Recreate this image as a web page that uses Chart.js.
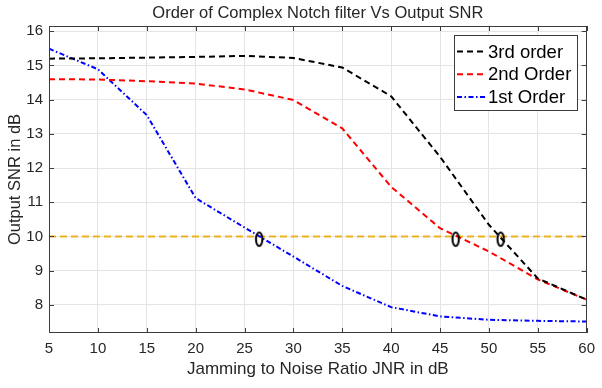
<!DOCTYPE html>
<html>
<head>
<meta charset="utf-8">
<script src="https://cdn.jsdelivr.net/npm/chart.js@4.4.1/dist/chart.umd.min.js"></script>
<style>
  html, body { margin: 0; padding: 0; background: #ffffff; }
  #wrap { width: 602px; height: 388px; }
</style>
</head>
<body>
<div id="wrap"><canvas id="snrChart" width="602" height="388"></canvas></div>
<script>
// Jamming-to-noise ratio sweep (dB)
const jnr = [5, 10, 15, 20, 25, 30, 35, 40, 45, 50, 55, 60];

// Output SNR (dB) for each notch filter order
const snr3rd = [15.20, 15.21, 15.23, 15.25, 15.28, 15.22, 14.94, 14.10, 12.33, 10.34, 8.77, 8.15];
const snr2nd = [14.60, 14.59, 14.54, 14.47, 14.30, 13.99, 13.16, 11.45, 10.24, 9.56, 8.74, 8.15];
const snr1st = [15.49, 14.89, 13.55, 11.12, 10.26, 9.41, 8.55, 7.93, 7.66, 7.56, 7.53, 7.51];

// 10 dB reference level and where each curve crosses it
const thresholdJNR = [5, 60];
const thresholdSNR = [10, 10];
const crossJNR = [26.5, 46.6, 51.2];
const crossSNR = [9.92, 9.92, 9.92];

// Axis ticks
const xTicks = [5, 10, 15, 20, 25, 30, 35, 40, 45, 50, 55, 60];
const yTicks = [8, 9, 10, 11, 12, 13, 14, 15, 16];

const FONT = "'Liberation Sans', Arial, Helvetica, sans-serif";
const TEXT = '#262626';
const AXIS = '#3c3c3c';

const pts = (xs, ys) => xs.map((x, i) => ({ x: x, y: ys[i] }));

// Tall open ring used to flag the 10 dB crossings
function ringGlyph() {
  const c = document.createElement('canvas');
  c.width = 12; c.height = 19;
  const g = c.getContext('2d');
  g.strokeStyle = '#000000';
  g.lineWidth = 2;
  g.beginPath();
  g.ellipse(6, 9.5, 3.2, 6.8, 0, 0, Math.PI * 2);
  g.stroke();
  return c;
}

// Axes box with inward tick marks on all four sides
const axesFrame = {
  id: 'axesFrame',
  afterDatasetsDraw(chart) {
    const { ctx, chartArea: a, scales } = chart;
    const len = 5;
    ctx.save();
    ctx.strokeStyle = AXIS;
    ctx.lineWidth = 1;
    ctx.beginPath();
    scales.x.ticks.forEach(t => {
      const px = Math.round(scales.x.getPixelForValue(t.value)) + 0.5;
      ctx.moveTo(px, a.bottom); ctx.lineTo(px, a.bottom - len);
      ctx.moveTo(px, a.top); ctx.lineTo(px, a.top + len);
    });
    scales.y.ticks.forEach(t => {
      const py = Math.round(scales.y.getPixelForValue(t.value)) + 0.5;
      ctx.moveTo(a.left, py); ctx.lineTo(a.left + len, py);
      ctx.moveTo(a.right, py); ctx.lineTo(a.right - len, py);
    });
    ctx.stroke();
    ctx.strokeRect(Math.round(a.left) + 0.5, Math.round(a.top) + 0.5,
                   Math.round(a.right - a.left) - 1, Math.round(a.bottom - a.top) - 1);
    ctx.restore();
  }
};

// Boxed legend inside the top-right corner of the plot
const insetLegend = {
  id: 'insetLegend',
  afterDraw(chart) {
    const { ctx, chartArea: a } = chart;
    const items = chart.data.datasets.filter(d => d.label);
    const w = 123, h = 75;
    const x0 = Math.round(a.right - 10 - w) + 0.5;
    const y0 = Math.round(a.top + 9) + 0.5;
    ctx.save();
    ctx.fillStyle = '#ffffff';
    ctx.fillRect(x0, y0, w, h);
    ctx.strokeStyle = AXIS;
    ctx.lineWidth = 1;
    ctx.strokeRect(x0, y0, w, h);
    ctx.font = '18.5px ' + FONT;
    ctx.textBaseline = 'middle';
    ctx.textAlign = 'left';
    items.forEach((d, i) => {
      const cy = y0 + 16 + i * 22.8;
      ctx.strokeStyle = d.borderColor;
      ctx.lineWidth = d.borderWidth;
      ctx.setLineDash(d.borderDash || []);
      ctx.beginPath();
      ctx.moveTo(x0 + 2.5, cy);
      ctx.lineTo(x0 + 31.5, cy);
      ctx.stroke();
      ctx.setLineDash([]);
      ctx.fillStyle = '#000000';
      ctx.fillText(d.label, x0 + 33.5, cy + 1);
    });
    ctx.restore();
  }
};

new Chart(document.getElementById('snrChart'), {
  type: 'line',
  data: {
    datasets: [
      {
        data: pts(crossJNR, crossSNR),
        showLine: false,
        pointStyle: ringGlyph(),
        pointRadius: 6,
        pointHoverRadius: 6,
        borderColor: '#000000'
      },
      {
        label: '3rd order',
        data: pts(jnr, snr3rd),
        borderColor: '#000000',
        borderWidth: 2,
        borderDash: [6, 4],
        pointRadius: 0,
        tension: 0
      },
      {
        label: '2nd Order',
        data: pts(jnr, snr2nd),
        borderColor: '#ff0000',
        borderWidth: 2,
        borderDash: [6, 4],
        pointRadius: 0,
        tension: 0
      },
      {
        label: '1st Order',
        data: pts(jnr, snr1st),
        borderColor: '#0000ff',
        borderWidth: 2,
        borderDash: [5, 2.5, 1.5, 2.5],
        pointRadius: 0,
        tension: 0
      },
      {
        data: pts(thresholdJNR, thresholdSNR),
        borderColor: '#edb120',
        borderWidth: 2,
        borderDash: [7, 4],
        pointRadius: 0
      }
    ]
  },
  options: {
    responsive: false,
    animation: false,
    devicePixelRatio: 1,
    events: [],
    layout: { padding: { top: 0, right: 10, bottom: 0, left: 0 } },
    plugins: {
      legend: { display: false },
      tooltip: { enabled: false },
      title: {
        display: true,
        fullSize: false,
        text: 'Order of Complex Notch filter Vs Output SNR',
        color: TEXT,
        font: { family: FONT, size: 16.5, weight: 'normal' },
        padding: { top: 3.5, bottom: 2.7 }
      }
    },
    scales: {
      x: {
        type: 'linear',
        min: 5,
        max: 60,
        afterBuildTicks: s => { s.ticks = xTicks.map(v => ({ value: v })); },
        afterFit: s => { s.height = 55; },
        ticks: {
          color: TEXT,
          font: { family: FONT, size: 15 },
          padding: 7,
          maxRotation: 0
        },
        grid: { color: '#e4e4e4', drawTicks: false },
        border: { display: false },
        title: {
          display: true,
          text: 'Jamming to Noise Ratio JNR in dB',
          color: TEXT,
          font: { family: FONT, size: 17 },
          padding: { top: 0, bottom: 8 }
        }
      },
      y: {
        type: 'linear',
        min: 7.174,
        max: 16.155,
        afterBuildTicks: s => { s.ticks = yTicks.map(v => ({ value: v })); },
        afterFit: s => { s.width = 49; },
        ticks: {
          color: TEXT,
          font: { family: FONT, size: 15 },
          padding: 6
        },
        grid: { color: '#e4e4e4', drawTicks: false },
        border: { display: false },
        title: {
          display: true,
          text: 'Output SNR in dB',
          color: TEXT,
          font: { family: FONT, size: 16.5 },
          padding: { top: 6, bottom: 0 }
        }
      }
    }
  },
  plugins: [axesFrame, insetLegend]
});
</script>
</body>
</html>
